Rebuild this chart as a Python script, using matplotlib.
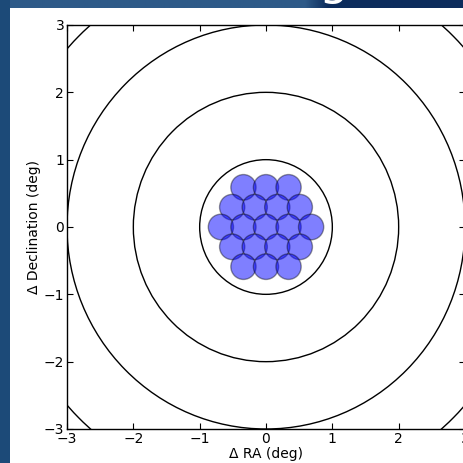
import numpy as np
import matplotlib
matplotlib.use("Agg")
import matplotlib.pyplot as plt
from matplotlib.patches import Circle, Rectangle

# Data
ring_radii = [1, 2, 3, 4]               # deg
row_counts = [3, 4, 5, 4, 3]            # hexagonal pointing pattern, top to bottom
spacing = 0.34                          # deg between pointing centres
beam_radius = 0.19                      # deg
ticks = [-3, -2, -1, 0, 1, 2, 3]

fig = plt.figure(figsize=(4.63, 4.63), dpi=100)
W = H = 463.0

# presentation background
bg = fig.add_axes([0, 0, 1, 1])
bg.set_axis_off()
grad = np.linspace(0, 1, 256)
cols = np.zeros((1, 256, 3))
c0 = np.array([0x2e, 0x5a, 0x88]) / 255
c1 = np.array([0x0c, 0x2c, 0x5c]) / 255
for k, t in enumerate(grad):
    w = 0 if t < 0.66 else min(1, (t - 0.66) / 0.05)
    cols[0, k] = c0 * (1 - w) + c1 * w
bg.imshow(cols, aspect="auto", extent=[0, 1, 0, 1], transform=bg.transAxes)
bg.add_patch(Rectangle((0, 0), 10 / W, 1, transform=bg.transAxes,
                       facecolor="#1c4a78", edgecolor="none"))
bg.add_patch(Rectangle((10 / W, 0), 1, (H - 8) / H, transform=bg.transAxes,
                       facecolor="white", edgecolor="none"))
bg.text(333 / W, 1 - 4.5 / H, "g", color="white", fontsize=34, ha="center",
        va="bottom", transform=bg.transAxes, clip_on=True, zorder=0)
bg.set_xlim(0, 1); bg.set_ylim(0, 1)

ax = fig.add_axes([67 / W, (H - 429) / H, 398 / W, 404 / H])
ax.set_facecolor("white")

# outer rings
for r in ring_radii:
    ax.add_patch(Circle((0, 0), r, fill=False, edgecolor="black", lw=1.0, zorder=2))

# pointing pattern
nrows = len(row_counts)
for j, n in enumerate(row_counts):
    y = ((nrows - 1) / 2 - j) * spacing * np.sqrt(3) / 2
    for i in range(n):
        x = (i - (n - 1) / 2) * spacing
        ax.add_patch(Circle((x, y), beam_radius, facecolor=(0, 0, 1, 0.5),
                            edgecolor=(0, 0, 0, 0.4), lw=1.0, zorder=3))

ax.set_xlim(-3, 3)
ax.set_ylim(-3, 3)
ax.set_xticks(ticks)
ax.set_yticks(ticks)
ax.set_xticklabels([str(t).replace("-", "\u2212") for t in ticks])
ax.set_yticklabels([str(t).replace("-", "\u2212") for t in ticks])
ax.tick_params(direction="in", top=True, right=True, length=4, labelsize=10, pad=2)
for s in ax.spines.values():
    s.set_linewidth(1.0)
ax.set_xlabel("\u0394 RA (deg)", fontsize=10, labelpad=1)
ax.set_ylabel("\u0394 Declination (deg)", fontsize=10, labelpad=2)

fig.savefig("out.png", dpi=100)
